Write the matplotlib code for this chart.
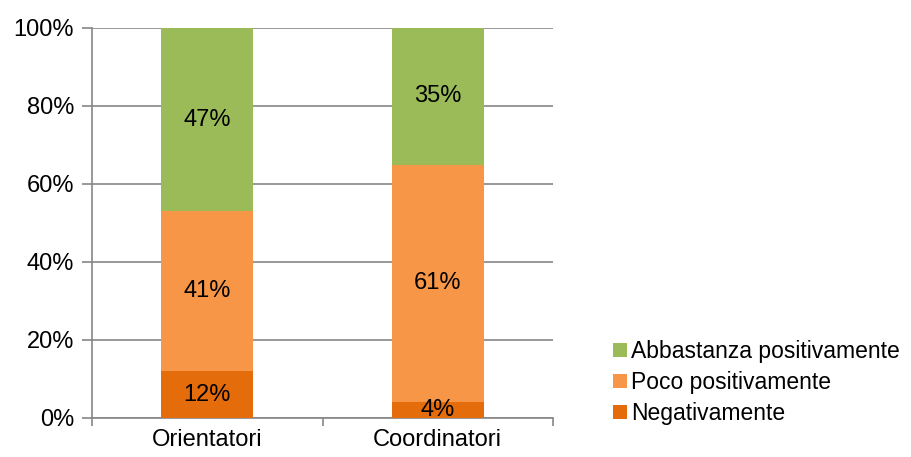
import matplotlib.pyplot as plt
from matplotlib.ticker import PercentFormatter

plt.rcParams['font.family'] = ['Liberation Sans', 'DejaVu Sans']

categories = ["Orientatori", "Coordinatori"]
series_names = ["Negativamente", "Poco positivamente", "Abbastanza positivamente"]
negativamente = [12, 4]
poco_positivamente = [41, 61]
abbastanza_positivamente = [47, 35]
colors = ["#E46C0A", "#F79646", "#9BBB59"]

fig = plt.figure(figsize=(9.12, 4.57), dpi=100)
ax = fig.add_axes([92 / 912, 1 - 418 / 457, (553 - 92) / 912, (418 - 28) / 457])

x = range(len(categories))
bottom = [0] * len(categories)
handles = []
for name, vals, col in zip(series_names, [negativamente, poco_positivamente, abbastanza_positivamente], colors):
    bars = ax.bar(x, vals, width=0.4, bottom=bottom, color=col, label=name, zorder=3)
    handles.append(bars)
    for i, v in enumerate(vals):
        ax.text(i, bottom[i] + v / 2, f"{v}%", ha="center", va="center",
                fontsize=17, color="black", zorder=4)
    bottom = [b + v for b, v in zip(bottom, vals)]

ax.set_xlim(-0.5, 1.5)
ax.set_ylim(0, 100)
ax.set_yticks(range(0, 101, 20))
ax.yaxis.set_major_formatter(PercentFormatter(decimals=0))
ax.grid(axis="y", color="#868686", linewidth=1.2, zorder=0)

# category ticks sit on the boundaries, labels in between
ax.set_xticks([-0.5, 0.5, 1.5])
ax.set_xticklabels([])
ax.set_xticks([0, 1], minor=True)
ax.set_xticklabels(categories, minor=True)
ax.tick_params(axis="x", which="minor", length=0, labelsize=17, pad=8)
ax.tick_params(axis="x", which="major", length=6, color="#868686", width=1.2)
ax.tick_params(axis="y", length=7, color="#868686", width=1.2, labelsize=17, pad=6)

for side in ["top", "right"]:
    ax.spines[side].set_visible(False)
for side in ["left", "bottom"]:
    ax.spines[side].set_color("#868686")
    ax.spines[side].set_linewidth(1.2)

fig.legend(handles[::-1], series_names[::-1], loc="upper left",
           bbox_to_anchor=(604 / 912, 1 - 331 / 457), frameon=False,
           fontsize=16.5, handlelength=0.6, handleheight=0.6, handletextpad=0.2,
           labelspacing=0.35, borderaxespad=0)

fig.savefig("out.png", dpi=100)
